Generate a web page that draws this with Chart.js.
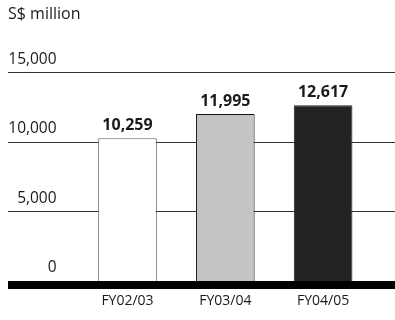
<!DOCTYPE html>
<html>
<head>
<meta charset="utf-8">
<script src="https://cdn.jsdelivr.net/npm/chart.js@4"></script>
<style>
  html, body { margin: 0; padding: 0; background: #fff; }
  #wrap { width: 395px; height: 320px; }
</style>
</head>
<body>
<div id="wrap"><canvas id="myChart"></canvas></div>
<script>
const years = ['FY02/03', 'FY03/04', 'FY04/05'];
const revenue = [10259, 11995, 12617];
const yTicks = [0, 5000, 10000, 15000];

const barFill = ['#ffffff', '#c4c4c4', '#222222'];
const barEdge = ['#666666', '#111111', '#222222'];
const ink = '#1a1a1a';

// gridlines run the full width, behind the bars
const gridPlugin = {
    id: 'fullGrid',
    beforeDatasetsDraw(chart) {
        const ctx = chart.ctx;
        const y = chart.scales.y;
        ctx.save();
        ctx.strokeStyle = '#333';
        ctx.lineWidth = 1;
        yTicks.forEach(t => {
            if (t === 0) return;
            const py = Math.round(y.getPixelForValue(t)) + 0.5;
            ctx.beginPath();
            ctx.moveTo(8, py);
            ctx.lineTo(395, py);
            ctx.stroke();
        });
        ctx.restore();
    },
    afterDatasetsDraw(chart) {
        const ctx = chart.ctx;
        const y = chart.scales.y;
        const meta = chart.getDatasetMeta(0);
        ctx.save();
        // thick base line
        ctx.fillStyle = '#000';
        ctx.fillRect(8, Math.round(y.getPixelForValue(0)), 387, 8);
        // value labels
        ctx.fillStyle = ink;
        ctx.font = 'bold 16px "Open Sans"';
        ctx.textAlign = 'center';
        ctx.textBaseline = 'alphabetic';
        meta.data.forEach((bar, i) => {
            ctx.fillText(revenue[i].toLocaleString('en-US'), bar.x, bar.y - 8);
        });
        ctx.restore();
    }
};

Chart.defaults.font.family = '"Open Sans"';
Chart.defaults.font.size = 14;
Chart.defaults.color = ink;

var ctx = document.getElementById('myChart').getContext('2d');
var myChart = new Chart(ctx, {
    type: 'bar',
    data: {
        labels: years,
        datasets: [{
            data: revenue,
            backgroundColor: barFill,
            borderColor: barEdge,
            borderWidth: 1,
            barPercentage: 0.6,
            categoryPercentage: 1
        }]
    },
    options: {
        responsive: true,
        maintainAspectRatio: false,
        animation: false,
        layout: {
            padding: { left: 8, right: 23, top: 0, bottom: 11 }
        },
        scales: {
            x: {
                grid: { display: false, drawTicks: false },
                border: { display: false },
                afterFit: (scale) => { scale.height = 28; },
                ticks: { padding: 12, color: ink, font: { size: 14 } }
            },
            y: {
                min: 0,
                max: 15000,
                afterBuildTicks: (scale) => {
                    scale.ticks = yTicks.map(v => ({ value: v }));
                },
                afterFit: (scale) => { scale.width = 70.6; },
                grid: { display: false, drawTicks: false },
                border: { display: false },
                ticks: {
                    padding: 22,
                    labelOffset: -13,
                    color: ink,
                    font: { size: 15.5 },
                    callback: (v) => v.toLocaleString('en-US')
                }
            }
        },
        plugins: {
            legend: { display: false },
            tooltip: { enabled: false },
            title: {
                display: true,
                text: 'S$ million',
                align: 'start',
                color: ink,
                font: { size: 16, weight: 'normal' },
                padding: { top: 5, bottom: 48 }
            }
        }
    },
    plugins: [gridPlugin]
});
</script>
</body>
</html>
